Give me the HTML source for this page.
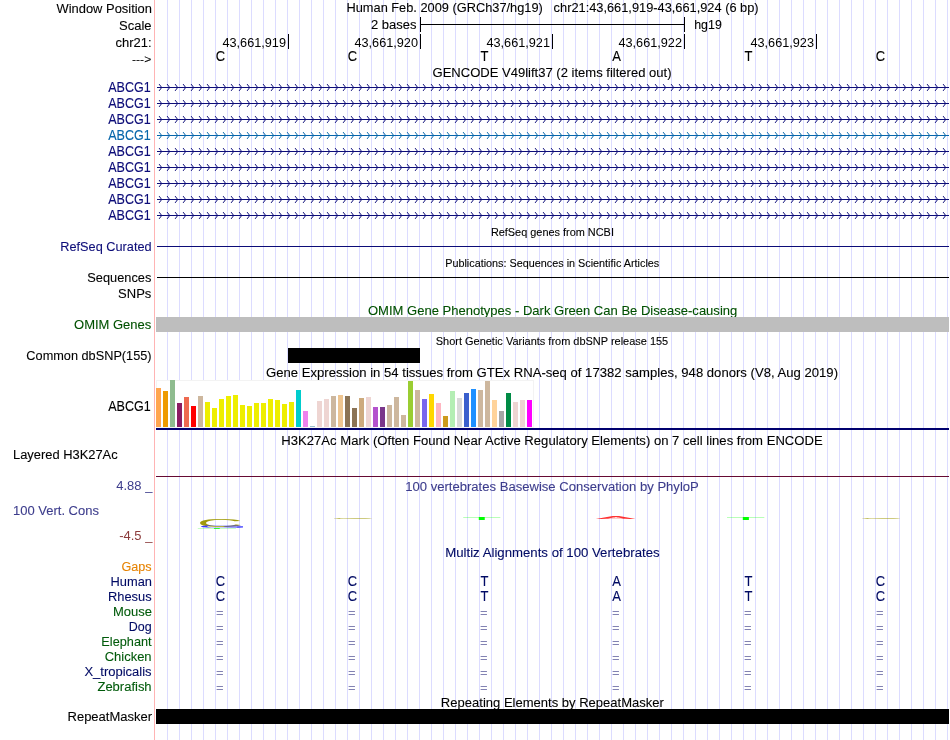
<!DOCTYPE html>
<html lang="en"><head><meta charset="utf-8"><title>UCSC Genome Browser chr21:43,661,919-43,661,924</title>
<style>html,body{margin:0;padding:0;background:#fff;overflow:hidden}svg{display:block;will-change:transform}text{stroke-width:.1px;paint-order:stroke fill}text{white-space:pre}</style></head>
<body>
<svg width="950" height="740" viewBox="0 0 950 740" font-family='"Liberation Sans", sans-serif' font-size="13">
<defs>
<pattern id="chvN" x="156" y="83" width="8" height="16" patternUnits="userSpaceOnUse"><path d="M3.1 1.1L5.7 4.5L3.1 7.9" fill="none" stroke="#0c0c78" stroke-width="1" stroke-linecap="butt" stroke-linejoin="miter"/></pattern>
<pattern id="chvL" x="156" y="83" width="8" height="16" patternUnits="userSpaceOnUse"><path d="M3.1 1.1L5.7 4.5L3.1 7.9" fill="none" stroke="#0565aa" stroke-width="1" stroke-linecap="butt" stroke-linejoin="miter"/></pattern>
</defs>
<rect width="950" height="740" fill="#fff"/>
<path d="M167.5 0V740M179.5 0V740M191.5 0V740M203.5 0V740M215.5 0V740M227.5 0V740M239.5 0V740M251.5 0V740M263.5 0V740M275.5 0V740M287.5 0V740M299.5 0V740M311.5 0V740M323.5 0V740M335.5 0V740M347.5 0V740M359.5 0V740M371.5 0V740M383.5 0V740M395.5 0V740M407.5 0V740M419.5 0V740M431.5 0V740M443.5 0V740M455.5 0V740M467.5 0V740M479.5 0V740M491.5 0V740M503.5 0V740M515.5 0V740M527.5 0V740M539.5 0V740M551.5 0V740M563.5 0V740M575.5 0V740M587.5 0V740M599.5 0V740M611.5 0V740M623.5 0V740M635.5 0V740M647.5 0V740M659.5 0V740M671.5 0V740M683.5 0V740M695.5 0V740M707.5 0V740M719.5 0V740M731.5 0V740M743.5 0V740M755.5 0V740M767.5 0V740M779.5 0V740M791.5 0V740M803.5 0V740M815.5 0V740M827.5 0V740M839.5 0V740M851.5 0V740M863.5 0V740M875.5 0V740M887.5 0V740M899.5 0V740M911.5 0V740M923.5 0V740M935.5 0V740M947.5 0V740" stroke="#dcdcff" stroke-width="1" fill="none" shape-rendering="crispEdges"/>
<path d="M154.5 0V740" stroke="#ffb4b4" stroke-width="1" shape-rendering="crispEdges"/>
<text transform="translate(152,12.5) scale(0.995,1.04)" text-anchor="end" stroke="#000">Window Position</text>
<text transform="translate(151.6,29.5) scale(1,1.04)" text-anchor="end" stroke="#000">Scale</text>
<text transform="translate(151.6,46.5) scale(1,1.04)" text-anchor="end" stroke="#000">chr21:</text>
<text transform="translate(151.2,62.8) scale(0.93,0.9)" text-anchor="end" stroke="#000">---&gt;</text>
<text transform="translate(346.5,12) scale(0.985,1.04)" stroke="#000">Human Feb. 2009 (GRCh37/hg19)</text>
<text transform="translate(758.6,12) scale(0.986,1.04)" text-anchor="end" stroke="#000">chr21:43,661,919-43,661,924 (6 bp)</text>
<text transform="translate(416.5,29) scale(1,1.04)" text-anchor="end" stroke="#000">2 bases</text>
<text transform="translate(694.2,29) scale(0.955,1.04)" stroke="#000">hg19</text>
<g shape-rendering="crispEdges" fill="#000">
<rect x="420" y="17" width="1" height="15"/><rect x="684" y="17" width="1" height="15"/><rect x="420" y="24" width="265" height="1"/>
<rect x="288" y="34" width="1" height="15"/>
<rect x="420" y="34" width="1" height="15"/>
<rect x="552" y="34" width="1" height="15"/>
<rect x="684" y="34" width="1" height="15"/>
<rect x="816" y="34" width="1" height="15"/>
</g>
<text transform="translate(286,46.5) scale(0.978,0.97)" text-anchor="end">43,661,919</text>
<text transform="translate(418,46.5) scale(0.978,0.97)" text-anchor="end">43,661,920</text>
<text transform="translate(550,46.5) scale(0.978,0.97)" text-anchor="end">43,661,921</text>
<text transform="translate(682,46.5) scale(0.978,0.97)" text-anchor="end">43,661,922</text>
<text transform="translate(814,46.5) scale(0.978,0.97)" text-anchor="end">43,661,923</text>
<text transform="translate(220.5,61) scale(1,1.1)" text-anchor="middle" stroke="#000">C</text>
<text transform="translate(352.5,61) scale(1,1.1)" text-anchor="middle" stroke="#000">C</text>
<text transform="translate(484.5,61) scale(1,1.1)" text-anchor="middle" stroke="#000">T</text>
<text transform="translate(616.5,61) scale(1,1.1)" text-anchor="middle" stroke="#000">A</text>
<text transform="translate(748.5,61) scale(1,1.1)" text-anchor="middle" stroke="#000">T</text>
<text transform="translate(880.5,61) scale(1,1.1)" text-anchor="middle" stroke="#000">C</text>
<text transform="translate(552,77.3) scale(1.004,1.04)" text-anchor="middle" stroke="#000">GENCODE V49lift37 (2 items filtered out)</text>
<text transform="translate(150.7,92) scale(0.965,1.1)" text-anchor="end" fill="#0c0c78" stroke="#0c0c78">ABCG1</text>
<g color="#0c0c78"><rect x="157" y="87" width="792" height="1" fill="#0c0c78" shape-rendering="crispEdges"/><rect x="156" y="83" width="792" height="9" fill="url(#chvN)"/></g>
<text transform="translate(150.7,108) scale(0.965,1.1)" text-anchor="end" fill="#0c0c78" stroke="#0c0c78">ABCG1</text>
<g color="#0c0c78"><rect x="157" y="103" width="792" height="1" fill="#0c0c78" shape-rendering="crispEdges"/><rect x="156" y="99" width="792" height="9" fill="url(#chvN)"/></g>
<text transform="translate(150.7,124) scale(0.965,1.1)" text-anchor="end" fill="#0c0c78" stroke="#0c0c78">ABCG1</text>
<g color="#0c0c78"><rect x="157" y="119" width="792" height="1" fill="#0c0c78" shape-rendering="crispEdges"/><rect x="156" y="115" width="792" height="9" fill="url(#chvN)"/></g>
<text transform="translate(150.7,140) scale(0.965,1.1)" text-anchor="end" fill="#0565aa" stroke="#0565aa">ABCG1</text>
<g color="#0565aa"><rect x="157" y="135" width="792" height="1" fill="#0565aa" shape-rendering="crispEdges"/><rect x="156" y="131" width="792" height="9" fill="url(#chvL)"/></g>
<text transform="translate(150.7,156) scale(0.965,1.1)" text-anchor="end" fill="#0c0c78" stroke="#0c0c78">ABCG1</text>
<g color="#0c0c78"><rect x="157" y="151" width="792" height="1" fill="#0c0c78" shape-rendering="crispEdges"/><rect x="156" y="147" width="792" height="9" fill="url(#chvN)"/></g>
<text transform="translate(150.7,172) scale(0.965,1.1)" text-anchor="end" fill="#0c0c78" stroke="#0c0c78">ABCG1</text>
<g color="#0c0c78"><rect x="157" y="167" width="792" height="1" fill="#0c0c78" shape-rendering="crispEdges"/><rect x="156" y="163" width="792" height="9" fill="url(#chvN)"/></g>
<text transform="translate(150.7,188) scale(0.965,1.1)" text-anchor="end" fill="#0c0c78" stroke="#0c0c78">ABCG1</text>
<g color="#0c0c78"><rect x="157" y="183" width="792" height="1" fill="#0c0c78" shape-rendering="crispEdges"/><rect x="156" y="179" width="792" height="9" fill="url(#chvN)"/></g>
<text transform="translate(150.7,204) scale(0.965,1.1)" text-anchor="end" fill="#0c0c78" stroke="#0c0c78">ABCG1</text>
<g color="#0c0c78"><rect x="157" y="199" width="792" height="1" fill="#0c0c78" shape-rendering="crispEdges"/><rect x="156" y="195" width="792" height="9" fill="url(#chvN)"/></g>
<text transform="translate(150.7,220) scale(0.965,1.1)" text-anchor="end" fill="#0c0c78" stroke="#0c0c78">ABCG1</text>
<g color="#0c0c78"><rect x="157" y="215" width="792" height="1" fill="#0c0c78" shape-rendering="crispEdges"/><rect x="156" y="211" width="792" height="9" fill="url(#chvN)"/></g>
<text transform="translate(552.4,236) scale(0.993,0.95)" text-anchor="middle" stroke="#000" font-size="11">RefSeq genes from NCBI</text>
<text transform="translate(151.6,251) scale(0.98,1.04)" text-anchor="end" fill="#0c0c78" stroke="#0c0c78">RefSeq Curated</text>
<rect x="157" y="246" width="792" height="1" fill="#0c0c78" shape-rendering="crispEdges"/>
<text transform="translate(552.2,267) scale(0.985,0.95)" text-anchor="middle" stroke="#000" font-size="11">Publications: Sequences in Scientific Articles</text>
<text transform="translate(151.29999999999998,282) scale(0.985,1.04)" text-anchor="end" stroke="#000">Sequences</text>
<text transform="translate(151.29999999999998,298) scale(1,1.04)" text-anchor="end" stroke="#000">SNPs</text>
<rect x="157" y="277" width="792" height="1" fill="#000" shape-rendering="crispEdges"/>
<text transform="translate(552.6,315) scale(1.004,1.04)" text-anchor="middle" fill="#005000" stroke="#005000">OMIM Gene Phenotypes - Dark Green Can Be Disease-causing</text>
<text transform="translate(151.29999999999998,329) scale(1,1.04)" text-anchor="end" fill="#005000" stroke="#005000">OMIM Genes</text>
<rect x="156" y="317" width="793" height="15" fill="#bebebe" shape-rendering="crispEdges"/>
<text transform="translate(552,345) scale(0.998,0.95)" text-anchor="middle" stroke="#000" font-size="11">Short Genetic Variants from dbSNP release 155</text>
<text transform="translate(151.6,360) scale(0.98,1.04)" text-anchor="end" stroke="#000">Common dbSNP(155)</text>
<rect x="288" y="348" width="132" height="15" fill="#000" shape-rendering="crispEdges"/>
<text transform="translate(552,377) scale(1.009,1.04)" text-anchor="middle" stroke="#000">Gene Expression in 54 tissues from GTEx RNA-seq of 17382 samples, 948 donors (V8, Aug 2019)</text>
<text transform="translate(150.7,411) scale(0.965,1.1)" text-anchor="end" stroke="#000">ABCG1</text>
<g shape-rendering="crispEdges">
<rect x="156" y="380" width="378" height="48" fill="#fff"/>
<rect x="156.5" y="380.5" width="377" height="47" fill="none" stroke="#f3f3f3" stroke-width="1"/>
<rect x="156" y="388" width="5" height="39" fill="#FFA54F"/>
<rect x="163" y="391" width="5" height="36" fill="#EE9A00"/>
<rect x="170" y="380" width="5" height="47" fill="#8FBC8F"/>
<rect x="177" y="403" width="5" height="24" fill="#8B1C62"/>
<rect x="184" y="397" width="5" height="30" fill="#EE6A50"/>
<rect x="191" y="406" width="5" height="21" fill="#FF0000"/>
<rect x="198" y="396" width="5" height="31" fill="#CDB79E"/>
<rect x="205" y="402" width="5" height="25" fill="#EEEE00"/>
<rect x="212" y="408" width="5" height="19" fill="#EEEE00"/>
<rect x="219" y="399" width="5" height="28" fill="#EEEE00"/>
<rect x="226" y="396" width="5" height="31" fill="#EEEE00"/>
<rect x="233" y="395" width="5" height="32" fill="#EEEE00"/>
<rect x="240" y="405" width="5" height="22" fill="#EEEE00"/>
<rect x="247" y="406" width="5" height="21" fill="#EEEE00"/>
<rect x="254" y="403" width="5" height="24" fill="#EEEE00"/>
<rect x="261" y="403" width="5" height="24" fill="#EEEE00"/>
<rect x="268" y="399" width="5" height="28" fill="#EEEE00"/>
<rect x="275" y="400" width="5" height="27" fill="#EEEE00"/>
<rect x="282" y="404" width="5" height="23" fill="#EEEE00"/>
<rect x="289" y="402" width="5" height="25" fill="#EEEE00"/>
<rect x="296" y="390" width="5" height="37" fill="#00CDCD"/>
<rect x="303" y="411" width="5" height="16" fill="#EE82EE"/>
<rect x="310" y="426" width="5" height="1" fill="#9AC0CD"/>
<rect x="317" y="401" width="5" height="26" fill="#EED5D2"/>
<rect x="324" y="399" width="5" height="28" fill="#EED5D2"/>
<rect x="331" y="396" width="5" height="31" fill="#CDB79E"/>
<rect x="338" y="395" width="5" height="32" fill="#EEC591"/>
<rect x="345" y="396" width="5" height="31" fill="#8B7355"/>
<rect x="352" y="408" width="5" height="19" fill="#8B7355"/>
<rect x="359" y="398" width="5" height="29" fill="#CDAA7D"/>
<rect x="366" y="397" width="5" height="30" fill="#EED5D2"/>
<rect x="373" y="407" width="5" height="20" fill="#B452CD"/>
<rect x="380" y="407" width="5" height="20" fill="#7A378B"/>
<rect x="387" y="405" width="5" height="22" fill="#CDB79E"/>
<rect x="394" y="397" width="5" height="30" fill="#CDB79E"/>
<rect x="401" y="415" width="5" height="12" fill="#CDB79E"/>
<rect x="408" y="381" width="5" height="46" fill="#9ACD32"/>
<rect x="415" y="390" width="5" height="37" fill="#CDB79E"/>
<rect x="422" y="399" width="5" height="28" fill="#7A67EE"/>
<rect x="429" y="394" width="5" height="33" fill="#FFD700"/>
<rect x="436" y="403" width="5" height="24" fill="#FFB6C1"/>
<rect x="443" y="416" width="5" height="11" fill="#CD9B1D"/>
<rect x="450" y="391" width="5" height="36" fill="#B4EEB4"/>
<rect x="457" y="398" width="5" height="29" fill="#D9D9D9"/>
<rect x="464" y="393" width="5" height="34" fill="#3A5FCD"/>
<rect x="471" y="389" width="5" height="38" fill="#1E90FF"/>
<rect x="478" y="390" width="5" height="37" fill="#CDB79E"/>
<rect x="485" y="381" width="5" height="46" fill="#CDB79E"/>
<rect x="492" y="400" width="5" height="27" fill="#FFD39B"/>
<rect x="499" y="411" width="5" height="16" fill="#A6A6A6"/>
<rect x="506" y="393" width="5" height="34" fill="#008B45"/>
<rect x="513" y="402" width="5" height="25" fill="#EED5D2"/>
<rect x="520" y="400" width="5" height="27" fill="#EED5D2"/>
<rect x="527" y="400" width="5" height="27" fill="#FF00FF"/>
<rect x="156" y="428" width="793" height="2" fill="#00006e"/>
</g>
<text transform="translate(552,445) scale(1.0086,1.04)" text-anchor="middle" stroke="#000">H3K27Ac Mark (Often Found Near Active Regulatory Elements) on 7 cell lines from ENCODE</text>
<text transform="translate(13,459) scale(0.992,1.04)" stroke="#000">Layered H3K27Ac</text>
<rect x="156" y="476" width="793" height="1" fill="#660a33" shape-rendering="crispEdges"/>
<text transform="translate(552,490.7) scale(1.006,1.04)" text-anchor="middle" fill="#3c3c8c" stroke="#3c3c8c">100 vertebrates Basewise Conservation by PhyloP</text>
<text transform="translate(152.4,490) scale(1,0.97)" text-anchor="end" fill="#3c3c8c">4.88 _</text>
<text transform="translate(13,514.5) scale(1,1.04)" fill="#3c3c8c" stroke="#3c3c8c">100 Vert. Cons</text>
<text transform="translate(152.4,540) scale(1,0.97)" text-anchor="end" fill="#8c3c3c">-4.5 _</text>
<text transform="translate(196.73,527) scale(4.952,0.870)" fill="#a09a0a" stroke="none">C</text>
<text transform="translate(197.67,528.3) scale(4.955,0.217)" fill="#3c3cff" stroke="none">G</text>
<text transform="translate(196.61,529.1) scale(5.135,0.123)" fill="#00ff00" stroke="none" opacity="0.8">T</text>
<text transform="translate(330.76,518.6) scale(4.735,0.168)" fill="#a09a0a" stroke="none">C</text>
<text transform="translate(461.84,519.8) scale(5.054,0.213)" fill="#00ff00" stroke="none">T</text>
<text transform="translate(595.80,518.7) scale(4.614,0.201)" fill="#ff0000" stroke="none" opacity="0.8">A</text>
<text transform="translate(725.62,519.8) scale(5.108,0.213)" fill="#00ff00" stroke="none">T</text>
<text transform="translate(859.06,518.6) scale(4.735,0.168)" fill="#a09a0a" stroke="none">C</text>
<text transform="translate(552.4,557) scale(1.017,1.04)" text-anchor="middle" fill="#000a64" stroke="#000a64">Multiz Alignments of 100 Vertebrates</text>
<text transform="translate(151.6,571) scale(0.97,1.04)" text-anchor="end" fill="#e68200" stroke="#e68200">Gaps</text>
<text transform="translate(152,586) scale(0.99,1.04)" text-anchor="end" fill="#000a64" stroke="#000a64">Human</text>
<text transform="translate(151.6,601) scale(0.99,1.04)" text-anchor="end" fill="#000a64" stroke="#000a64">Rhesus</text>
<text transform="translate(152,616) scale(1,1.04)" text-anchor="end" fill="#005a0a" stroke="#005a0a">Mouse</text>
<text transform="translate(151.6,631) scale(0.96,1.04)" text-anchor="end" fill="#000a64" stroke="#000a64">Dog</text>
<text transform="translate(151.6,646) scale(0.98,1.04)" text-anchor="end" fill="#005a0a" stroke="#005a0a">Elephant</text>
<text transform="translate(151.6,661) scale(1,1.04)" text-anchor="end" fill="#005a0a" stroke="#005a0a">Chicken</text>
<text transform="translate(151.6,676) scale(1,1.04)" text-anchor="end" fill="#000a64" stroke="#000a64">X_tropicalis</text>
<text transform="translate(151.6,691) scale(1,1.04)" text-anchor="end" fill="#005a0a" stroke="#005a0a">Zebrafish</text>
<text transform="translate(220.5,586) scale(1,1.1)" text-anchor="middle" fill="#000a64" stroke="#000a64">C</text>
<text transform="translate(220.5,601) scale(1,1.1)" text-anchor="middle" fill="#000a64" stroke="#000a64">C</text>
<text transform="translate(216.0,616.6) scale(1,0.926)" fill="#8282b2">=</text>
<text transform="translate(216.0,631.6) scale(1,0.926)" fill="#8282b2">=</text>
<text transform="translate(216.0,646.6) scale(1,0.926)" fill="#8282b2">=</text>
<text transform="translate(216.0,661.6) scale(1,0.926)" fill="#8282b2">=</text>
<text transform="translate(216.0,676.6) scale(1,0.926)" fill="#8282b2">=</text>
<text transform="translate(216.0,691.6) scale(1,0.926)" fill="#8282b2">=</text>
<text transform="translate(352.5,586) scale(1,1.1)" text-anchor="middle" fill="#000a64" stroke="#000a64">C</text>
<text transform="translate(352.5,601) scale(1,1.1)" text-anchor="middle" fill="#000a64" stroke="#000a64">C</text>
<text transform="translate(348.0,616.6) scale(1,0.926)" fill="#8282b2">=</text>
<text transform="translate(348.0,631.6) scale(1,0.926)" fill="#8282b2">=</text>
<text transform="translate(348.0,646.6) scale(1,0.926)" fill="#8282b2">=</text>
<text transform="translate(348.0,661.6) scale(1,0.926)" fill="#8282b2">=</text>
<text transform="translate(348.0,676.6) scale(1,0.926)" fill="#8282b2">=</text>
<text transform="translate(348.0,691.6) scale(1,0.926)" fill="#8282b2">=</text>
<text transform="translate(484.5,586) scale(1,1.1)" text-anchor="middle" fill="#000a64" stroke="#000a64">T</text>
<text transform="translate(484.5,601) scale(1,1.1)" text-anchor="middle" fill="#000a64" stroke="#000a64">T</text>
<text transform="translate(480.0,616.6) scale(1,0.926)" fill="#8282b2">=</text>
<text transform="translate(480.0,631.6) scale(1,0.926)" fill="#8282b2">=</text>
<text transform="translate(480.0,646.6) scale(1,0.926)" fill="#8282b2">=</text>
<text transform="translate(480.0,661.6) scale(1,0.926)" fill="#8282b2">=</text>
<text transform="translate(480.0,676.6) scale(1,0.926)" fill="#8282b2">=</text>
<text transform="translate(480.0,691.6) scale(1,0.926)" fill="#8282b2">=</text>
<text transform="translate(616.5,586) scale(1,1.1)" text-anchor="middle" fill="#000a64" stroke="#000a64">A</text>
<text transform="translate(616.5,601) scale(1,1.1)" text-anchor="middle" fill="#000a64" stroke="#000a64">A</text>
<text transform="translate(612.0,616.6) scale(1,0.926)" fill="#8282b2">=</text>
<text transform="translate(612.0,631.6) scale(1,0.926)" fill="#8282b2">=</text>
<text transform="translate(612.0,646.6) scale(1,0.926)" fill="#8282b2">=</text>
<text transform="translate(612.0,661.6) scale(1,0.926)" fill="#8282b2">=</text>
<text transform="translate(612.0,676.6) scale(1,0.926)" fill="#8282b2">=</text>
<text transform="translate(612.0,691.6) scale(1,0.926)" fill="#8282b2">=</text>
<text transform="translate(748.5,586) scale(1,1.1)" text-anchor="middle" fill="#000a64" stroke="#000a64">T</text>
<text transform="translate(748.5,601) scale(1,1.1)" text-anchor="middle" fill="#000a64" stroke="#000a64">T</text>
<text transform="translate(744.0,616.6) scale(1,0.926)" fill="#8282b2">=</text>
<text transform="translate(744.0,631.6) scale(1,0.926)" fill="#8282b2">=</text>
<text transform="translate(744.0,646.6) scale(1,0.926)" fill="#8282b2">=</text>
<text transform="translate(744.0,661.6) scale(1,0.926)" fill="#8282b2">=</text>
<text transform="translate(744.0,676.6) scale(1,0.926)" fill="#8282b2">=</text>
<text transform="translate(744.0,691.6) scale(1,0.926)" fill="#8282b2">=</text>
<text transform="translate(880.5,586) scale(1,1.1)" text-anchor="middle" fill="#000a64" stroke="#000a64">C</text>
<text transform="translate(880.5,601) scale(1,1.1)" text-anchor="middle" fill="#000a64" stroke="#000a64">C</text>
<text transform="translate(876.0,616.6) scale(1,0.926)" fill="#8282b2">=</text>
<text transform="translate(876.0,631.6) scale(1,0.926)" fill="#8282b2">=</text>
<text transform="translate(876.0,646.6) scale(1,0.926)" fill="#8282b2">=</text>
<text transform="translate(876.0,661.6) scale(1,0.926)" fill="#8282b2">=</text>
<text transform="translate(876.0,676.6) scale(1,0.926)" fill="#8282b2">=</text>
<text transform="translate(876.0,691.6) scale(1,0.926)" fill="#8282b2">=</text>
<text transform="translate(552.4,707) scale(1.004,1.04)" text-anchor="middle" stroke="#000">Repeating Elements by RepeatMasker</text>
<text transform="translate(152,721) scale(1,1.04)" text-anchor="end" stroke="#000">RepeatMasker</text>
<rect x="156" y="709" width="793" height="15" fill="#000" shape-rendering="crispEdges"/>
</svg>
</body></html>
